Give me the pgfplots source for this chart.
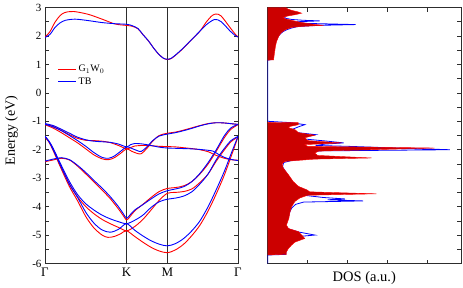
\documentclass[border=0pt]{standalone}
\usepackage{pgfplots}
\pgfplotsset{compat=1.18}
\usepackage{fontspec}
\setmainfont{Liberation Serif}
\definecolor{dosred}{RGB}{204,0,0}
\definecolor{fr}{RGB}{45,45,45}
\tikzset{
  bandr/.style={red, line width=0.9pt, smooth, tension=0.5},
  bandb/.style={blue, line width=0.9pt, smooth, tension=0.5},
}
\begin{document}
\begin{tikzpicture}
\useasboundingbox (-45pt,-23.7pt) rectangle (418pt,263.5pt);
\begin{axis}[
  at={(0,0)}, anchor=south west, scale only axis, width=193pt, height=256pt,
  xmin=0, xmax=2.366, ymin=-6, ymax=3,
  xtick={0,1,1.5,2.366}, xticklabels={Γ,K,M,Γ},
  xticklabel style={font=\fontsize{13}{13}\selectfont, yshift=-1pt},
  major x tick style={draw=none},
  ytick={-6,-5,-4,-3,-2,-1,0,1,2,3},
  minor ytick={-5.5,-4.5,-3.5,-2.5,-1.5,-0.5,0.5,1.5,2.5},
  ytick pos=both, yticklabel pos=left,
  tick align=inside, major tick length=4pt, minor tick length=4pt,
  tick style={fr, line width=0.6pt},
  axis line style={fr, line width=0.7pt},
  yticklabel style={font=\fontsize{11}{11}\selectfont},
  /pgf/number format/assume math mode=true,
  ylabel={Energy (eV)},
  ylabel style={at={(axis description cs:-0.14,0.52)}, anchor=south, inner sep=0pt, font=\fontsize{14}{14}\selectfont},
  legend style={at={(axis description cs:0.06,0.788)}, anchor=north west, draw=none, fill=none, font=\fontsize{10}{10}\selectfont, row sep=0.5pt, inner sep=1pt},
  legend cell align=left,
  legend image code/.code={\draw[#1, line width=0.9pt] (0pt,0pt) -- (18pt,0pt);},
]
\addplot[fr, line width=0.6pt, forget plot] coordinates {(1,-6) (1,3)};
\addplot[fr, line width=0.6pt, forget plot] coordinates {(1.5,-6) (1.5,3)};
% ---- G1W0 (red)
\addplot[bandr] coordinates {(0,1.96) (0.06,2.15) (0.12,2.47) (0.18,2.7) (0.24,2.82) (0.35,2.86) (0.53,2.76) (0.7,2.59) (0.86,2.42) (1.0,2.37) (1.07,2.34) (1.14,2.25) (1.2,2.05) (1.27,1.82) (1.33,1.58) (1.39,1.37) (1.45,1.22) (1.5,1.17) (1.55,1.21) (1.62,1.37) (1.7,1.58) (1.8,1.88) (1.9,2.17) (1.98,2.5) (2.05,2.72) (2.1,2.77) (2.16,2.7) (2.27,2.29) (2.33,2.07) (2.366,1.97)};
\addlegendentry{G$_1$W$_0$}
\addplot[bandr, forget plot] coordinates {(0,-1.1) (0.1,-1.18) (0.2,-1.32) (0.3,-1.47) (0.4,-1.6) (0.5,-1.67) (0.6,-1.68) (0.7,-1.7) (0.8,-1.75) (0.9,-1.85) (1.0,-1.97) (1.05,-1.92) (1.1,-1.87) (1.2,-1.85) (1.3,-1.86) (1.4,-1.88) (1.5,-1.89) (1.6,-1.9) (1.7,-1.93) (1.8,-1.96) (1.9,-2.0) (2.0,-2.07) (2.1,-2.2) (2.2,-2.3) (2.28,-2.35) (2.366,-2.37)};
\addplot[bandr, forget plot] coordinates {(0,-1.12) (0.1,-1.24) (0.2,-1.4) (0.3,-1.58) (0.4,-1.76) (0.5,-1.97) (0.6,-2.18) (0.7,-2.32) (0.78,-2.35) (0.85,-2.28) (0.93,-2.12) (1.0,-1.97) (1.06,-2.05) (1.13,-2.13) (1.18,-2.14) (1.25,-1.95) (1.32,-1.7) (1.4,-1.5) (1.5,-1.42) (1.6,-1.38) (1.7,-1.31) (1.8,-1.23) (1.9,-1.15) (2.0,-1.08) (2.1,-1.05) (2.2,-1.06) (2.3,-1.09) (2.366,-1.11)};
\addplot[bandr, forget plot] coordinates {(0,-2.42) (0.1,-2.36) (0.2,-2.3) (0.3,-2.36) (0.4,-2.58) (0.5,-2.85) (0.6,-3.13) (0.7,-3.42) (0.8,-3.72) (0.9,-4.08) (0.96,-4.32) (1.0,-4.47) (1.04,-4.36) (1.1,-4.15) (1.2,-3.92) (1.3,-3.68) (1.4,-3.47) (1.5,-3.36) (1.6,-3.33) (1.7,-3.27) (1.8,-3.12) (1.9,-2.85) (2.0,-2.5) (2.1,-2.05) (2.2,-1.57) (2.28,-1.28) (2.366,-1.12)};
\addplot[bandr, forget plot] coordinates {(0,-1.55) (0.05,-1.72) (0.1,-1.98) (0.2,-2.6) (0.3,-3.2) (0.4,-3.66) (0.5,-4.0) (0.6,-4.25) (0.7,-4.45) (0.8,-4.6) (0.9,-4.73) (1.0,-4.85) (1.1,-4.7) (1.2,-4.45) (1.3,-4.12) (1.4,-3.78) (1.5,-3.53) (1.6,-3.5) (1.7,-3.47) (1.8,-3.38) (1.9,-3.15) (2.0,-2.85) (2.1,-2.4) (2.2,-2.0) (2.28,-1.72) (2.366,-1.55)};
\addplot[bandr, forget plot] coordinates {(0,-1.55) (0.05,-1.74) (0.1,-2.03) (0.2,-2.68) (0.3,-3.3) (0.4,-3.8) (0.5,-4.35) (0.6,-4.75) (0.7,-5.0) (0.77,-5.08) (0.85,-5.05) (0.93,-4.95) (1.0,-4.85) (1.1,-5.05) (1.2,-5.25) (1.3,-5.43) (1.4,-5.56) (1.5,-5.62) (1.6,-5.52) (1.7,-5.32) (1.8,-5.02) (1.9,-4.65) (2.0,-4.15) (2.1,-3.55) (2.2,-2.88) (2.28,-2.25) (2.366,-1.55)};
% ---- TB (blue)
\addplot[bandb] coordinates {(0,1.95) (0.06,2.05) (0.12,2.29) (0.18,2.45) (0.25,2.55) (0.37,2.59) (0.53,2.54) (0.7,2.47) (0.86,2.43) (1.0,2.41) (1.07,2.36) (1.14,2.26) (1.2,2.05) (1.27,1.82) (1.33,1.58) (1.39,1.37) (1.45,1.22) (1.5,1.18) (1.55,1.22) (1.62,1.38) (1.7,1.59) (1.8,1.88) (1.9,2.17) (1.98,2.4) (2.08,2.58) (2.16,2.5) (2.27,2.17) (2.33,2.02) (2.366,1.96)};
\addlegendentry{TB}
\addplot[bandb, forget plot] coordinates {(0,-1.08) (0.1,-1.15) (0.2,-1.28) (0.3,-1.42) (0.4,-1.56) (0.5,-1.65) (0.6,-1.7) (0.7,-1.72) (0.8,-1.74) (0.9,-1.8) (1.0,-1.9) (1.05,-1.82) (1.1,-1.78) (1.2,-1.8) (1.3,-1.85) (1.4,-1.91) (1.5,-1.94) (1.6,-1.95) (1.7,-1.96) (1.8,-1.97) (1.9,-1.99) (2.0,-2.02) (2.06,-2.05) (2.12,-2.15) (2.2,-2.27) (2.28,-2.34) (2.366,-2.38)};
\addplot[bandb, forget plot] coordinates {(0,-1.1) (0.1,-1.2) (0.2,-1.33) (0.3,-1.5) (0.4,-1.68) (0.5,-1.88) (0.6,-2.1) (0.7,-2.27) (0.78,-2.3) (0.85,-2.22) (0.93,-2.05) (1.0,-1.9) (1.06,-1.95) (1.13,-2.03) (1.18,-2.06) (1.25,-1.9) (1.32,-1.68) (1.4,-1.52) (1.5,-1.45) (1.6,-1.4) (1.7,-1.33) (1.8,-1.25) (1.9,-1.16) (2.0,-1.09) (2.1,-1.05) (2.2,-1.06) (2.3,-1.09) (2.366,-1.11)};
\addplot[bandb, forget plot] coordinates {(0,-2.4) (0.1,-2.33) (0.2,-2.28) (0.3,-2.35) (0.4,-2.55) (0.5,-2.8) (0.6,-3.08) (0.7,-3.35) (0.8,-3.65) (0.9,-4.0) (0.96,-4.25) (1.0,-4.41) (1.04,-4.3) (1.1,-4.12) (1.2,-3.93) (1.3,-3.73) (1.4,-3.55) (1.5,-3.44) (1.6,-3.38) (1.7,-3.3) (1.8,-3.12) (1.9,-2.83) (2.0,-2.45) (2.1,-2.0) (2.2,-1.5) (2.28,-1.23) (2.366,-1.11)};
\addplot[bandb, forget plot] coordinates {(0,-1.53) (0.05,-1.7) (0.1,-1.95) (0.2,-2.55) (0.3,-3.12) (0.4,-3.58) (0.5,-3.9) (0.6,-4.12) (0.7,-4.3) (0.8,-4.43) (0.9,-4.53) (1.0,-4.6) (1.1,-4.48) (1.2,-4.3) (1.3,-4.03) (1.4,-3.83) (1.5,-3.74) (1.6,-3.7) (1.7,-3.63) (1.8,-3.48) (1.9,-3.2) (2.0,-2.85) (2.1,-2.35) (2.2,-1.95) (2.28,-1.68) (2.366,-1.53)};
\addplot[bandb, forget plot] coordinates {(0,-1.53) (0.05,-1.72) (0.1,-2.0) (0.2,-2.62) (0.3,-3.22) (0.4,-3.68) (0.5,-4.2) (0.6,-4.58) (0.7,-4.82) (0.8,-4.9) (0.9,-4.8) (1.0,-4.6) (1.1,-4.83) (1.2,-5.03) (1.3,-5.2) (1.4,-5.32) (1.5,-5.38) (1.6,-5.3) (1.7,-5.12) (1.8,-4.85) (1.9,-4.5) (2.0,-4.0) (2.1,-3.4) (2.2,-2.75) (2.28,-2.15) (2.366,-1.53)};
\end{axis}
\begin{axis}[
  at={(222.7pt,0)}, anchor=south west, scale only axis, width=193.3pt, height=256pt,
  xmin=0, xmax=4.84, ymin=-6, ymax=3,
  xtick={1,2,3,4}, xticklabel=\empty, xtick pos=both,
  ytick={-5.5,-5,-4.5,-4,-3.5,-3,-2.5,-2,-1.5,-1,-0.5,0,0.5,1,1.5,2,2.5},
  yticklabel=\empty, ytick pos=right,
  tick align=inside, major tick length=4pt,
  tick style={fr, line width=0.6pt},
  axis line style={fr, line width=0.7pt},
  xlabel={DOS (a.u.)},
  xlabel style={at={(axis description cs:0.5,0)}, anchor=north, inner sep=0pt, yshift=-8pt, font=\fontsize{14.5}{14.5}\selectfont},
]
% TB DOS (blue line)
\addplot[blue, line width=0.8pt] coordinates {(0.3,3) (0.35,2.9) (0.42,2.8) (0.4,2.7) (0.45,2.62) (0.6,2.58) (0.9,2.55) (1.3,2.53) (0.75,2.5) (0.7,2.47) (1.0,2.44) (2.2,2.4) (1.2,2.37) (0.75,2.33) (0.6,2.28) (0.48,2.22) (0.38,2.15) (0.3,2.05) (0.25,1.95) (0.2,1.8) (0.16,1.6) (0.13,1.4) (0.11,1.25) (0.1,1.17) (0,1.15) (0,-1.0) (0.6,-1.05) (0.93,-1.12) (0.8,-1.18) (0.62,-1.28) (0.75,-1.4) (1.2,-1.47) (0.9,-1.54) (0.9,-1.62) (1.5,-1.7) (1.9,-1.76) (1.45,-1.8) (1.2,-1.85) (2.0,-1.88) (3.0,-1.93) (4.56,-2.0) (1.3,-2.04) (1.1,-2.1) (1.2,-2.18) (1.1,-2.28) (0.6,-2.38) (0.4,-2.45) (0.37,-2.6) (0.5,-2.88) (0.62,-3.12) (0.75,-3.3) (1.0,-3.45) (0.9,-3.6) (1.4,-3.68) (1.93,-3.73) (1.5,-3.76) (2.39,-3.8) (0.9,-3.84) (0.7,-3.92) (0.6,-4.05) (0.55,-4.2) (0.5,-4.45) (0.43,-4.7) (0.55,-4.8) (0.8,-4.9) (1.18,-5.0) (0.7,-5.06) (0.6,-5.15) (0.55,-5.3) (0.47,-5.5) (0.45,-5.68) (0,-5.7) (0,-6)};
% G1W0 DOS (red filled)
\addplot[fill=dosred, draw=red, line width=0.4pt] coordinates {(0,3) (0.45,3) (0.5,2.95) (0.6,2.9) (0.75,2.85) (0.85,2.8) (0.7,2.75) (0.5,2.7) (0.38,2.65) (0.45,2.6) (0.6,2.55) (0.75,2.5) (0.95,2.45) (1.2,2.4) (1.4,2.37) (0.9,2.34) (0.6,2.3) (0.5,2.25) (0.42,2.2) (0.33,2.1) (0.28,2.0) (0.22,1.8) (0.19,1.6) (0.17,1.4) (0.15,1.2) (0.15,1.16) (0,1.15)};
\addplot[fill=dosred, draw=red, line width=0.4pt] coordinates {(0,-1.04) (0.77,-1.05) (0.77,-1.12) (0.56,-1.18) (0.52,-1.23) (0.68,-1.29) (0.77,-1.4) (1.18,-1.49) (0.93,-1.58) (1.0,-1.68) (1.85,-1.76) (0.93,-1.82) (1.0,-1.88) (4.18,-1.94) (1.27,-2.05) (1.18,-2.12) (1.25,-2.2) (2.6,-2.29) (1.18,-2.33) (0.43,-2.41) (0.36,-2.5) (0.39,-2.65) (0.52,-2.88) (0.64,-3.12) (0.77,-3.29) (0.98,-3.41) (1.05,-3.48) (2.72,-3.55) (1.0,-3.6) (0.8,-3.7) (0.68,-3.82) (0.6,-4.0) (0.56,-4.18) (0.53,-4.41) (0.47,-4.65) (0.52,-4.77) (0.77,-4.88) (0.85,-5.0) (0.93,-5.12) (0.68,-5.25) (0.6,-5.35) (0.52,-5.47) (0.47,-5.59) (0.47,-5.68) (0,-5.7)};
\end{axis}
\end{tikzpicture}
\end{document}
